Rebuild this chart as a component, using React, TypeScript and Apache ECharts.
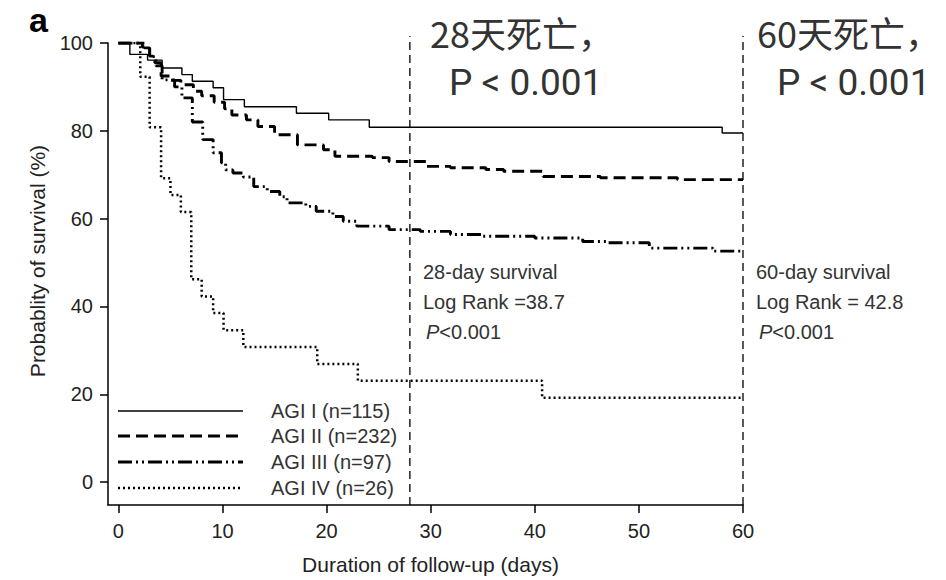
import React, { useEffect, useRef } from "react";
import * as echarts from "echarts";

// ---- data ----
const seriesNames = ["AGI I (n=115)", "AGI II (n=232)", "AGI III (n=97)", "AGI IV (n=26)"];

const agi1Days = [0, 1.1, 2.8, 4.2, 6.1, 7.1, 9.1, 10.1, 12.1, 17.1, 20.2, 24.1, 58.0, 60];
const agi1Surv = [100, 97.4, 96.1, 94.3, 92.8, 91.3, 89.8, 87.1, 85.5, 84.0, 82.5, 80.8, 79.5, 79.5];

const agi2Days = [0, 2.3, 3.0, 3.5, 4.1, 5.0, 6.0, 7.2, 8.0, 9.2, 10.2, 10.9, 12.3, 13.4, 15.0, 17.2, 19.7, 20.8, 24.4, 26.0, 29.6, 31.9, 35.3, 37.0, 40.8, 46.3, 53.7, 60];
const agi2Surv = [100, 99.1, 97.0, 95.5, 92.5, 91.5, 90.5, 89.0, 88.0, 86.5, 85.0, 83.6, 82.5, 81.0, 79.1, 76.8, 75.7, 74.2, 73.9, 73.0, 71.9, 71.6, 71.2, 70.8, 69.6, 69.3, 68.9, 68.9];

const agi3Days = [0, 2.5, 3.0, 3.6, 4.2, 5.4, 6.1, 7.1, 8.1, 9.1, 9.9, 10.3, 11.0, 12.0, 13.0, 14.3, 15.5, 16.2, 18.0, 19.0, 20.6, 21.6, 22.9, 26.0, 29.0, 31.9, 35.0, 40.0, 44.6, 47.0, 51.0, 57.1, 60];
const agi3Surv = [100, 98.9, 96.9, 94.8, 91.6, 90.0, 87.5, 82.0, 78.0, 75.0, 72.7, 71.1, 70.4, 69.5, 67.3, 66.2, 65.0, 63.6, 62.8, 61.7, 60.5, 59.4, 58.3, 57.5, 57.1, 56.4, 56.0, 55.6, 54.8, 54.5, 53.3, 52.6, 52.6];

const agi4Days = [0, 2.1, 3.0, 4.1, 5.0, 6.0, 7.0, 8.0, 9.1, 10.1, 12.0, 19.1, 23.0, 40.7, 60];
const agi4Surv = [100, 92.3, 80.8, 69.2, 65.4, 61.5, 46.2, 42.3, 38.5, 34.6, 30.8, 26.9, 23.1, 19.2, 19.2];

const xTicks = [0, 10, 20, 30, 40, 50, 60];
const yTicks = [0, 20, 40, 60, 80, 100];
const refDays = [28, 60];

const notes28 = ["28-day survival", "Log Rank =38.7", "{i|P}<0.001"];
const notes60 = ["60-day survival", "Log Rank = 42.8", "{i|P}<0.001"];
const bigTitle28 = "28天死亡，";
const bigTitle60 = "60天死亡，";
const bigP = "P < 0.001";

// ---- styles ----
const lineStyles = [
  { width: 1.4, dash: null as number[] | null },
  { width: 2.9, dash: [12, 6] },
  { width: 2.9, dash: [14, 4, 2, 4, 2, 4] },
  { width: 2.5, dash: [2, 3] },
];
const LATIN = "'Liberation Sans', Arial, Helvetica, sans-serif";
const CJK = "'Noto Sans CJK SC', 'Noto Sans', sans-serif";
const BIGLATIN = "Roboto, 'Noto Sans', sans-serif";
const FS = 20;

const X_MIN = -1;
const Y_MIN = -5.2;

export default function App() {
  const ref = useRef<HTMLDivElement>(null);

  useEffect(() => {
    if (!ref.current) return;
    const chart = echarts.init(ref.current, null, { renderer: "svg" });

    const curves = [
      [agi1Days, agi1Surv],
      [agi2Days, agi2Surv],
      [agi3Days, agi3Surv],
      [agi4Days, agi4Surv],
    ];

    const kmSeries = curves.map(([d, s], i) => ({
      type: "line",
      name: seriesNames[i],
      step: "end",
      symbol: "none",
      data: d.map((t, k) => [t, s[k]]),
      lineStyle: {
        color: "#000",
        width: lineStyles[i].width,
        type: lineStyles[i].dash ? lineStyles[i].dash : "solid",
      },
      z: 3,
    }));

    const refSeries = refDays.map((d) => ({
      type: "line",
      name: "ref" + d,
      symbol: "none",
      clip: false,
      data: [
        [d, Y_MIN],
        [d, 101.6],
      ],
      lineStyle: { color: "#000", width: 1.3, type: [8, 5] },
      z: 2,
    }));

    const legendRowsY = [411, 436, 462, 488];
    const legendGraphics: any[] = [];
    seriesNames.forEach((n, i) => {
      legendGraphics.push({
        type: "line",
        shape: { x1: 118, y1: legendRowsY[i], x2: 243, y2: legendRowsY[i] },
        style: {
          stroke: "#000",
          lineWidth: lineStyles[i].width,
          lineDash: lineStyles[i].dash || undefined,
        },
      });
      legendGraphics.push({
        type: "text",
        x: 271,
        y: legendRowsY[i],
        style: {
          text: n,
          font: `${FS}px ${LATIN}`,
          fill: "#333",
          textVerticalAlign: "middle",
        },
      });
    });

    const noteGraphics: any[] = [];
    const noteRows = [272, 302, 332];
    [
      { x: 423, lines: notes28 },
      { x: 756, lines: notes60 },
    ].forEach((g) => {
      g.lines.forEach((t, k) => {
        noteGraphics.push({
          type: "text",
          x: k === 2 ? g.x + 3 : g.x,
          y: noteRows[k],
          style: {
            text: t,
            font: `${FS}px ${LATIN}`,
            fill: "#333",
            textVerticalAlign: "middle",
            rich: {
              i: { fontStyle: "italic", fontSize: FS, fontFamily: LATIN, fill: "#333" },
            },
          },
        });
      });
    });

    [
      { x: 430, px: 449, title: bigTitle28 },
      { x: 757, px: 777, title: bigTitle60 },
    ].forEach((g) => {
      noteGraphics.push({
        type: "text",
        x: g.x,
        y: 32,
        style: {
          text: g.title,
          font: `36px ${CJK}`,
          fill: "#333",
          textVerticalAlign: "middle",
        },
      });
      noteGraphics.push({
        type: "text",
        x: g.px,
        y: 82,
        style: {
          text: bigP,
          font: `37px ${BIGLATIN}`,
          fill: "#333",
          textVerticalAlign: "middle",
        },
      });
    });

    const option: any = {
      animation: false,
      backgroundColor: "#fff",
      grid: { left: 108, right: 203, top: 43, bottom: 74, containLabel: false },
      xAxis: {
        type: "value",
        min: X_MIN,
        max: 60,
        name: "Duration of follow-up (days)",
        nameLocation: "middle",
        nameGap: 49,
        nameTextStyle: { fontSize: 21, fontFamily: LATIN, color: "#222", padding: [0, 0, 0, 10] },
        axisLine: { onZero: false, lineStyle: { color: "#000", width: 1.5 } },
        axisTick: { customValues: xTicks, length: 8, lineStyle: { color: "#000", width: 1.5 } },
        axisLabel: { customValues: xTicks, fontSize: FS, fontFamily: LATIN, color: "#222", margin: 16 },
        splitLine: { show: false },
      },
      yAxis: {
        type: "value",
        min: Y_MIN,
        max: 100,
        axisLine: { show: true, onZero: false, lineStyle: { color: "#000", width: 1.5 } },
        axisTick: { show: true, customValues: yTicks, length: 8, lineStyle: { color: "#000", width: 1.5 } },
        axisLabel: { customValues: yTicks, fontSize: FS, fontFamily: LATIN, color: "#222", margin: 15 },
        splitLine: { show: false },
      },
      series: [...kmSeries, ...refSeries],
      graphic: [
        {
          type: "text",
          x: 29,
          y: 20,
          style: { text: "a", font: `bold 34px ${LATIN}`, fill: "#000", textVerticalAlign: "middle" },
        },
        {
          type: "text",
          x: 37,
          y: 261,
          rotation: Math.PI / 2,
          style: {
            text: "Probablity of survival (%)",
            font: `21px ${LATIN}`,
            fill: "#222",
            textAlign: "center",
            textVerticalAlign: "middle",
          },
        },
        ...legendGraphics,
        ...noteGraphics,
      ],
    };

    chart.setOption(option);
    return () => chart.dispose();
  }, []);

  return (
    <div
      ref={ref}
      style={{ position: "fixed", left: 0, top: 0, width: 946, height: 580, background: "#fff" }}
    />
  );
}
